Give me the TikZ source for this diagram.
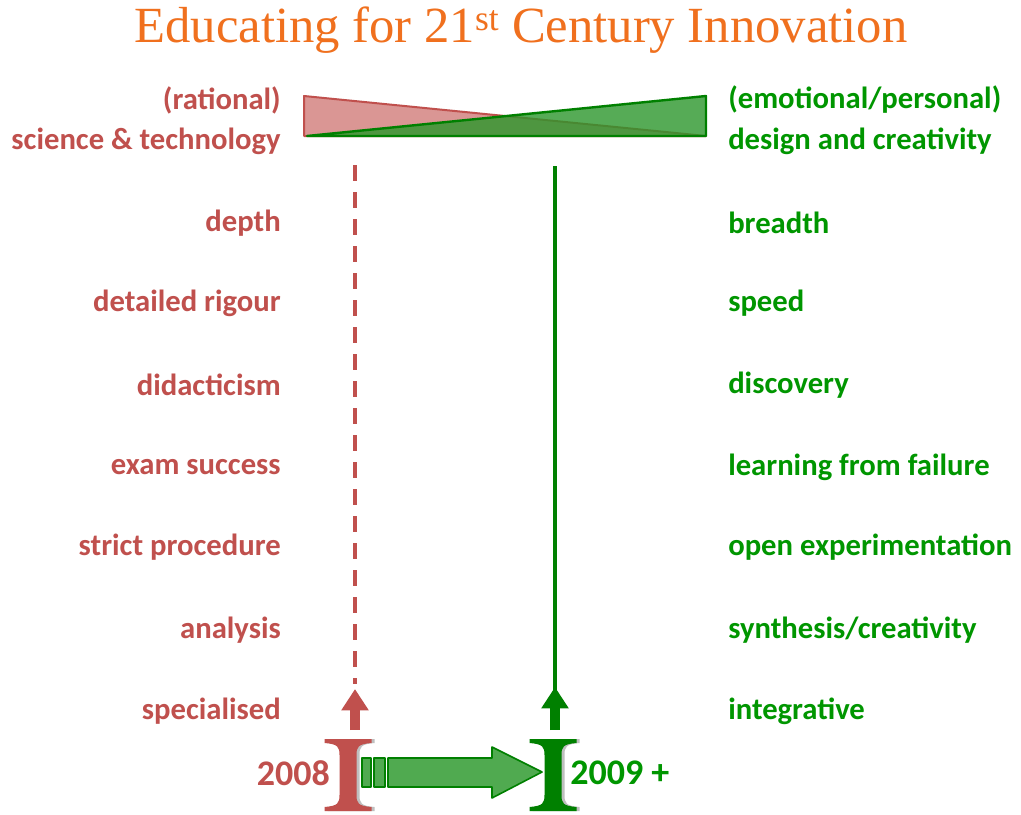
\documentclass[tikz,border=0pt]{standalone}
\usepackage{fontspec}
\setmainfont{Carlito}
\newfontfamily\titlefont{Liberation Serif}
\usetikzlibrary{arrows.meta}

\definecolor{ttlorange}{RGB}{240,112,30}
\definecolor{oldred}{RGB}{192,80,77}
\definecolor{palered}{RGB}{218,150,148}
\definecolor{newgreen}{RGB}{0,150,0}
\definecolor{darkgreen}{RGB}{0,128,0}
\definecolor{midgreen}{RGB}{80,170,80}

\tikzset{
  oldlbl/.style={anchor=east, inner sep=0pt, text=oldred, font=\fontsize{23}{26}\selectfont\bfseries},
  newlbl/.style={anchor=west, inner sep=0pt, text=newgreen, font=\fontsize{23}{26}\selectfont\bfseries},
  yearlbl/.style={inner sep=0pt, font=\fontsize{27}{30}\selectfont\bfseries},
  bigarrow/.style={draw=darkgreen, fill=midgreen, line width=1.2pt, line join=round},
  ibeam/.pic={
    \path[fill=black!25, shift={(3,0)}] (-23.5,-36) -- (23.5,-36) -- (23.5,-32)
      .. controls (10,-31) and (8.5,-28) .. (8.5,-20) -- (8.5,20)
      .. controls (8.5,28) and (10,31) .. (23.5,32) -- (23.5,36) -- (-23.5,36) -- (-23.5,32)
      .. controls (-10,31) and (-8.5,28) .. (-8.5,20) -- (-8.5,-20)
      .. controls (-8.5,-28) and (-10,-31) .. (-23.5,-32) -- cycle;
    \path[pic actions] (-23.5,-36) -- (23.5,-36) -- (23.5,-32)
      .. controls (10,-31) and (8.5,-28) .. (8.5,-20) -- (8.5,20)
      .. controls (8.5,28) and (10,31) .. (23.5,32) -- (23.5,36) -- (-23.5,36) -- (-23.5,32)
      .. controls (-10,31) and (-8.5,28) .. (-8.5,20) -- (-8.5,-20)
      .. controls (-8.5,-28) and (-10,-31) .. (-23.5,-32) -- cycle;
  }
}

\begin{document}
\begin{tikzpicture}[x=0.75pt, y=-0.75pt]
  \useasboundingbox[fill=white] (0,0) rectangle (1021,814);

  \node[text=ttlorange, font=\titlefont\fontsize{38}{40}\selectfont] (title) at (521,30)
    {Educating for 21\textsuperscript{st} Century Innovation};

  \draw[draw=oldred, fill=palered, line width=1.5pt, line join=round]
    (304,96) -- (304,136) -- (706,136) -- cycle;
  \draw[draw=darkgreen, fill=darkgreen!45!midgreen, fill opacity=0.8, line width=1.8pt, line join=round]
    (307,136) -- (706,96) -- (706,136) -- cycle;

  \node[oldlbl] (o0) at (281,100) {(rational)};
  \node[oldlbl] (o1) at (281,141) {science \& technology};
  \node[oldlbl] (o2) at (281,223) {depth};
  \node[oldlbl] (o3) at (281,303) {detailed rigour};
  \node[oldlbl] (o4) at (281,385) {didacticism};
  \node[oldlbl] (o5) at (281,467) {exam success};
  \node[oldlbl] (o6) at (281,547) {strict procedure};
  \node[oldlbl] (o7) at (281,630) {analysis};
  \node[oldlbl] (o8) at (281,711) {specialised};

  \node[newlbl] (n0) at (728,100) {(emotional/personal)};
  \node[newlbl] (n1) at (728,141) {design and creativity};
  \node[newlbl] (n2) at (728,223) {breadth};
  \node[newlbl] (n3) at (728,303) {speed};
  \node[newlbl] (n4) at (728,385) {discovery};
  \node[newlbl] (n5) at (728,467) {learning from failure};
  \node[newlbl] (n6) at (728,547) {open experimentation};
  \node[newlbl] (n7) at (728,630) {synthesis/creativity};
  \node[newlbl] (n8) at (728,711) {integrative};

  \coordinate (otop) at (355,165);
  \coordinate (obot) at (355,684);
  \coordinate (ntop) at (555,166);
  \coordinate (nbot) at (555,690);
  \draw[oldred, line width=3.5pt, dash pattern=on 12pt off 8.25pt] (otop) -- (obot);
  \draw[darkgreen, line width=3.5pt] (ntop) -- (nbot);

  \draw[oldred, line width=7.5pt, -{Triangle[width=19.5pt, length=16pt]}] (355,730) -- (355,689);
  \draw[darkgreen, line width=7.5pt, -{Triangle[width=19.5pt, length=16pt]}] (555,730) -- (555,687);

  \pic[fill=oldred] (y1) at (348,775) {ibeam};
  \pic[fill=darkgreen] (y2) at (553,775) {ibeam};
  \coordinate (tail) at (388,772);
  \coordinate (tip) at (542,772);

  \node[yearlbl, text=oldred, anchor=east] (old) at (330,773) {2008};
  \node[yearlbl, text=newgreen, anchor=west] (new) at (570,773) {2009 +};

  \draw[bigarrow] (tail) ++(-26,-14) rectangle ++(9,29);
  \draw[bigarrow] (tail) ++(-14,-14) rectangle ++(11,29);
  \draw[bigarrow] (tail) ++(0,-14) -- ++(104,0) -- ++(0,-11) -- (tip)
    -- ++(-50,26) -- ++(0,-11) -- ++(-104,0) -- cycle;
\end{tikzpicture}
\end{document}
